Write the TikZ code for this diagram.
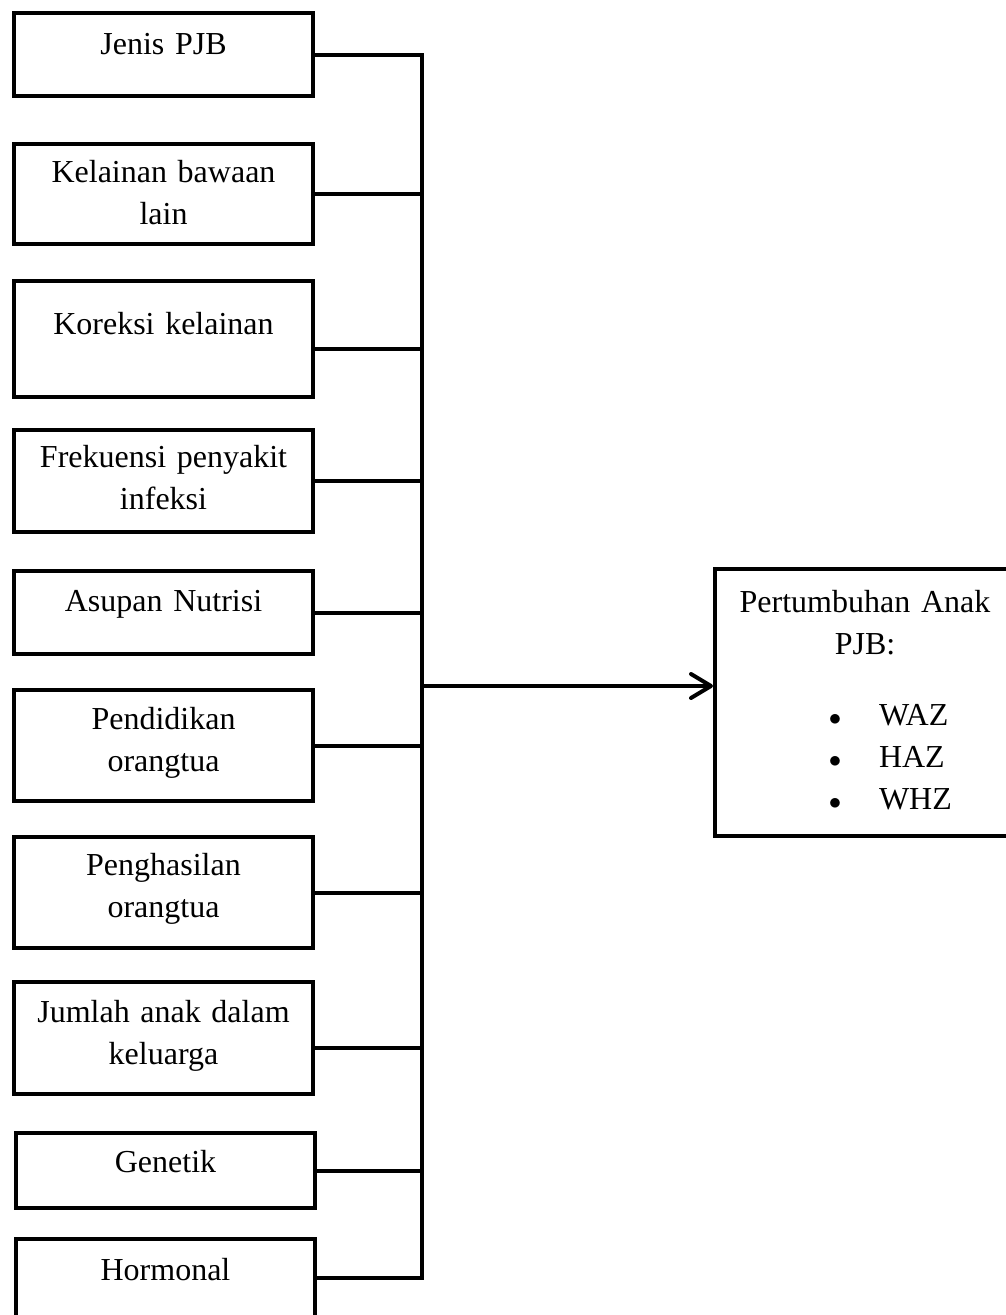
\documentclass[tikz,border=0pt]{standalone}
\usepackage{fontspec}
\setmainfont{Liberation Serif}
\usetikzlibrary{arrows.meta}

\begin{document}
\begin{tikzpicture}[x=1pt, y=-1pt,
  factor/.style={draw, line width=4pt, anchor=north west, inner sep=0pt,
    text width=299pt, align=center, font=\fontsize{32pt}{42pt}\selectfont},
  link/.style={line width=4pt, line join=miter}]
  \useasboundingbox (0,0) rectangle (1006,1315);
  % factors on the left
  \node[factor, text height=41pt, text depth=42pt] (jenis) at (12,11) {Jenis PJB};
  \node[factor, text height=38pt, text depth=62pt] (kelainan) at (12,142) {Kelainan bawaan\\lain};
  \node[factor, text height=53pt, text depth=63pt] (koreksi) at (12,279) {Koreksi kelainan};
  \node[factor, text height=37pt, text depth=65pt] (frekuensi) at (12,428) {Frekuensi penyakit\\infeksi};
  \node[factor, text height=40pt, text depth=43pt] (asupan) at (12,569) {Asupan Nutrisi};
  \node[factor, text height=39pt, text depth=72pt] (pendidikan) at (12,688) {Pendidikan\\orangtua};
  \node[factor, text height=38pt, text depth=73pt] (penghasilan) at (12,835) {Penghasilan\\orangtua};
  \node[factor, text height=40pt, text depth=72pt] (jumlah) at (12,980) {Jumlah anak dalam\\keluarga};
  \node[factor, text height=39pt, text depth=36pt] (genetik) at (14,1131) {Genetik};
  \node[factor, text height=41pt, text depth=42pt] (hormonal) at (14,1237) {Hormonal};
  % outcome
  \node[factor, text width=300pt, text height=43pt, text depth=224pt] (tumbuh) at (713,567)
    {Pertumbuhan Anak\\PJB:\\[29pt]
     \makebox[300pt][l]{\hspace{114pt}\makebox[12pt]{$\bullet$}\hspace{38pt}WAZ}\\
     \makebox[300pt][l]{\hspace{114pt}\makebox[12pt]{$\bullet$}\hspace{38pt}HAZ}\\
     \makebox[300pt][l]{\hspace{114pt}\makebox[12pt]{$\bullet$}\hspace{38pt}WHZ}};

  % collecting line
  \coordinate (bus) at (422,0);
  \coordinate (branch) at (422,686);
  \draw[link] (jenis.east) -- (jenis.east -| bus) -- ([yshift=2.5pt]hormonal.east -| bus) -- ([yshift=2.5pt]hormonal.east);
  \foreach \f in {kelainan, frekuensi, asupan, pendidikan, penghasilan, genetik}
    \draw[link] (\f.east) -- (\f.east -| bus);
  \foreach \f in {koreksi, jumlah}
    \draw[link] ([yshift=-10pt]\f.east) -- ([yshift=-10pt]\f.east -| bus);
  \draw[link, -{Straight Barb[length=20pt, width=24pt, round]}] (branch) -- (branch -| tumbuh.west);
\end{tikzpicture}
\end{document}
